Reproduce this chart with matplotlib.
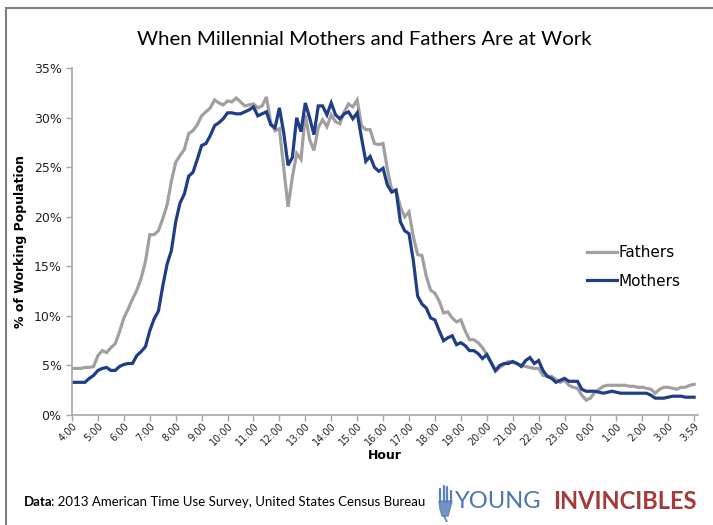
import numpy as np
import matplotlib.pyplot as plt
from matplotlib.patches import Rectangle

# 10-minute samples from 4:00 through 3:59 the next day
minutes = np.arange(0, 1441, 10)

fathers = [
    4.7, 4.7, 4.7, 4.8, 4.8, 4.9, 6.0, 6.5, 6.3, 6.8, 7.2, 8.4,
    9.8, 10.7, 11.7, 12.6, 13.8, 15.5, 18.2, 18.2, 18.6, 19.8, 21.2, 23.6,
    25.5, 26.2, 26.8, 28.4, 28.7, 29.3, 30.2, 30.6, 31.0, 31.8, 31.5, 31.3,
    31.7, 31.6, 32.0, 31.6, 31.2, 31.3, 31.4, 31.0, 31.2, 32.1, 29.5, 28.7,
    28.9, 25.0, 21.0, 24.0, 26.4, 25.8, 30.3, 27.8, 26.7, 29.0, 29.8, 29.1,
    30.3, 29.6, 29.4, 30.6, 31.4, 31.1, 31.8, 29.2, 28.8, 28.8, 27.4, 27.3,
    27.4, 24.8, 22.7, 22.7, 21.0, 20.0, 20.5, 18.0, 16.2, 16.1, 14.0, 12.6,
    12.3, 11.5, 10.3, 10.4, 9.8, 9.4, 9.6, 8.5, 7.6, 7.6, 7.3, 6.8,
    6.1, 5.3, 4.4, 4.8, 5.1, 5.4, 5.3, 5.2, 5.0, 4.9, 4.8, 4.7,
    4.7, 4.0, 3.9, 3.9, 3.6, 3.3, 3.5, 3.0, 2.8, 2.7, 2.0, 1.5,
    1.7, 2.3, 2.6, 2.9, 3.0, 3.0, 3.0, 3.0, 3.0, 2.9, 2.9, 2.8,
    2.8, 2.7, 2.6, 2.2, 2.6, 2.8, 2.8, 2.7, 2.6, 2.8, 2.8, 3.0,
    3.1,
]

mothers = [
    3.3, 3.3, 3.3, 3.3, 3.7, 4.0, 4.5, 4.7, 4.8, 4.5, 4.5, 4.9,
    5.1, 5.2, 5.2, 6.0, 6.4, 6.9, 8.5, 9.7, 10.5, 13.0, 15.2, 16.6,
    19.5, 21.4, 22.3, 24.1, 24.5, 25.8, 27.2, 27.4, 28.2, 29.2, 29.5, 29.9,
    30.5, 30.5, 30.4, 30.4, 30.6, 30.8, 31.1, 30.2, 30.4, 30.6, 29.3, 29.0,
    31.0, 28.5, 25.2, 26.0, 30.0, 28.6, 31.5, 30.0, 28.3, 31.2, 31.2, 30.3,
    31.5, 30.3, 29.9, 30.4, 30.6, 29.9, 30.5, 28.0, 25.6, 26.1, 25.0, 24.6,
    24.9, 23.2, 22.5, 22.7, 19.5, 18.6, 18.3, 15.6, 12.0, 11.2, 10.8, 9.8,
    9.6, 8.5, 7.5, 7.8, 8.0, 7.1, 7.3, 7.0, 6.5, 6.5, 6.2, 5.7,
    6.1, 5.3, 4.5, 5.0, 5.2, 5.2, 5.4, 5.2, 4.9, 5.5, 5.8, 5.2,
    5.5, 4.5, 3.9, 3.7, 3.3, 3.5, 3.7, 3.4, 3.4, 3.4, 2.6, 2.4,
    2.4, 2.4, 2.3, 2.2, 2.3, 2.4, 2.3, 2.2, 2.2, 2.2, 2.2, 2.2,
    2.2, 2.2, 2.0, 1.7, 1.7, 1.7, 1.8, 1.9, 1.9, 1.9, 1.8, 1.8,
    1.8,
]

tick_pos = list(range(0, 1440, 60)) + [1439]
tick_labels = ['4:00', '5:00', '6:00', '7:00', '8:00', '9:00', '10:00', '11:00',
               '12:00', '13:00', '14:00', '15:00', '16:00', '17:00', '18:00',
               '19:00', '20:00', '21:00', '22:00', '23:00', '0:00', '1:00',
               '2:00', '3:00', '3:59']
y_ticks = [0, 5, 10, 15, 20, 25, 30, 35]

gray = '#a0a0a0'
navy = '#1f3e86'
axis_gray = '#a6a6a6'

fig = plt.figure(figsize=(7.13, 5.25), dpi=100)
ax = fig.add_axes([0.101, 0.2095, 0.878, 0.6605])

ax.plot(minutes, fathers, color=gray, lw=2.3, label='Fathers', solid_joinstyle='miter')
ax.plot(minutes, mothers, color=navy, lw=2.3, label='Mothers', solid_joinstyle='miter')

ax.set_xlim(0, 1449)
ax.set_ylim(0, 35)
ax.set_yticks(y_ticks)
ax.set_yticklabels([f'{v}%' for v in y_ticks], fontsize=9, color='#222222')
ax.set_xticks(tick_pos)
ax.set_xticklabels(tick_labels, rotation=45, ha='right', rotation_mode='anchor',
                   fontsize=7, color='#222222')

for s in ['top', 'right']:
    ax.spines[s].set_visible(False)
for s in ['left', 'bottom']:
    ax.spines[s].set_color(axis_gray)
    ax.spines[s].set_linewidth(1.2)
ax.tick_params(axis='both', color=axis_gray, length=4, width=1)
ax.tick_params(axis='x', pad=0)

ax.set_xlabel('Hour', fontsize=9, fontweight='bold')
ax.xaxis.set_label_coords(0.5, -0.097)
ax.set_ylabel('% of Working Population', fontsize=9, fontweight='bold', labelpad=5)

leg = ax.legend(loc='upper left', bbox_to_anchor=(0.80, 0.53), frameon=False,
                fontsize=11, handlelength=2.0, handletextpad=0.1, labelspacing=0.9)

fig.text(0.511, 0.925, 'When Millennial Mothers and Fathers Are at Work',
         ha='center', va='center', fontsize=14.7, family='Lato')

fig.text(0.034, 0.043, 'Data', fontsize=9.5, fontweight='bold', family='Lato',
         ha='left', va='center')
fig.text(0.071, 0.043, ': 2013 American Time Use Survey, United States Census Bureau',
         fontsize=9.5, family='Lato', ha='left', va='center')

# small raised-hand mark of the logo
logo = fig.add_axes([437 / 713, 3 / 525, 16 / 713, 38 / 525])
logo.axis('off')
logo.set_xlim(0, 16)
logo.set_ylim(0, 38)
hand_blue = '#5b7fbd'
for x0, top in [(3, 33), (6.5, 36), (10, 35), (13.5, 31)]:
    logo.plot([x0, x0], [20, top], color=hand_blue, lw=1.6, solid_capstyle='round')
logo.fill([2, 15, 13, 11, 5, 3], [21, 21, 13, 6, 6, 13], color=hand_blue, alpha=0.85)
logo.plot([7, 10], [6, 0], color=hand_blue, lw=1.2)

fig.text(0.638, 0.045, 'YOUNG', fontsize=17, family='Lato', color='#4f74b3',
         ha='left', va='center')
fig.text(0.776, 0.045, 'INVINCIBLES', fontsize=17, family='Lato', fontweight='bold',
         color='#a53a3b', ha='left', va='center')

# outer frame of the original graphic
fig.patches.append(Rectangle((6 / 713, -0.1), 1.2, 1 - 8 / 525 + 0.1,
                             transform=fig.transFigure, fill=False,
                             edgecolor='#7f7f7f', lw=1.5))

fig.savefig('out.png', dpi=100)
